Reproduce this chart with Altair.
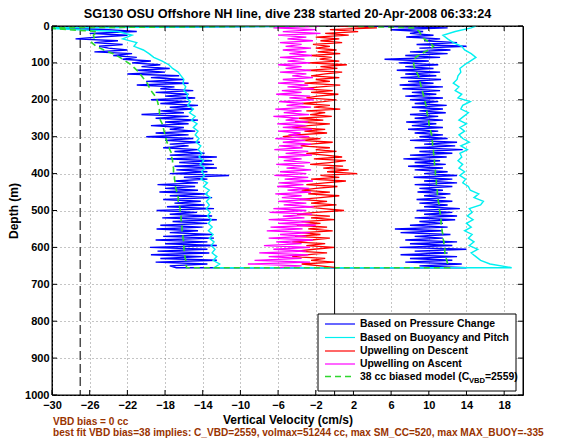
import altair as alt
import pandas as pd

TITLE = "SG130 OSU Offshore NH line, dive 238 started 20-Apr-2008 06:33:24"
X_TITLE = "Vertical Velocity (cm/s)"
Y_TITLE = "Depth (m)"
NOTE1 = "VBD bias = 0 cc"
NOTE2 = "best fit VBD bias=38 implies: C_VBD=2559, volmax=51244 cc, max SM_CC=520, max MAX_BUOY=-335"

x_ticks = [-30, -26, -22, -18, -14, -10, -6, -2, 2, 6, 10, 14, 18]
y_ticks = [0, 100, 200, 300, 400, 500, 600, 700, 800, 900, 1000]

legend_labels = ["Based on Pressure Change", "Based on Buoyancy and Pitch",
                 "Upwelling on Descent", "Upwelling on Ascent", "38 cc biased model (C"]
legend_sub = "VBD"
legend_tail = "=2559)"
legend_colors = ["#0000ff", "#00f0f0", "#ff0000", "#ff00ff", "#2ed62e"]

ref_dashed_x = [-27]
ref_zero_x = [0]

# sampling depths (m)
depth_fine = list(range(0, 656, 5))
depth_coarse = [0] + list(range(5, 656, 10))

# Based on pressure change: descent (0 -> 655 m) and ascent (655 -> 0 m)
blue_desc = [
    -1, -31, -24, -21, -26, -22, -25, -27.5, -23, -25.5,
    -22.5, -25, -24, -22, -25.5, -21.5, -23.5, -21, -22.5, -19.5,
    -21.5, -18.5, -20.5, -17.5, -21, -18, -22, -16.5, -19.5, -16,
    -20, -15.5, -21, -17, -18.5, -15, -19, -15.5, -18, -14.8,
    -19.5, -15.5, -18.5, -14.5, -17.5, -15, -18.5, -16, -20.5, -15.5,
    -19, -14.5, -18, -15.5, -19.5, -16, -17.5, -14.8, -19, -15.5,
    -20, -15, -18, -14.3, -17.5, -15.5, -18.2, -14.5, -17, -13.8,
    -17.5, -12.5, -17.8, -13, -16.5, -12.8, -17, -12.5, -16.8, -13.5,
    -17.5, -11.2, -16, -13.5, -17, -14.5, -18.8, -14.8, -18, -14.5,
    -18.6, -13.5, -17.5, -13, -18.2, -14.2, -17, -13.8, -17.8, -12.8,
    -18.9, -14.6, -17.5, -13, -18.3, -12.5, -17.2, -13.5, -18.5, -14,
    -18.9, -14.5, -17.5, -13, -18.2, -12.8, -19, -13.5, -18, -12.5,
    -19.6, -13.5, -18.8, -13.3, -19.5, -14, -18.5, -12.5, -19, -13.5,
    -17.5, -16.8,
]
blue_asc = [
    14, 9, 13.5, 7.5, 12.5, 8, 13, 7, 12, 8.5,
    14, 6.9, 12.5, 8, 13, 7.5, 11.5, 8.5, 12.3, 7,
    11.5, 6.4, 12, 8, 11.5, 9, 12.8, 8.5, 13, 9.5,
    12.5, 8.7, 13.3, 9.5, 12, 9, 12.5, 8.7, 11.8, 9.5,
    12.3, 8.8, 11.5, 9, 12.5, 8.5, 13, 9.5, 12.5, 8.4,
    13, 9.5, 12, 8.5, 11.5, 7.8, 11.8, 8.5, 11.2, 7.3,
    11.9, 8, 12.5, 9, 13.6, 8.5, 12.8, 9.5, 13, 8,
    12, 9, 11.5, 8.5, 11, 7.8, 11.5, 8.2, 10.8, 7.6,
    11.5, 8.5, 11, 8, 11.8, 9, 11.5, 8.2, 11.9, 8.5,
    11, 8, 11.5, 7.5, 10.8, 8.2, 11.2, 7.2, 11.5, 6.9,
    10.5, 7.8, 11.3, 7, 10.8, 7.5, 11.2, 6.6, 10.5, 7.5,
    11, 6.8, 10, 5.3, 11.2, 7.5, 12, 8, 12.3, 9,
    14, 8.7, 13, 9.5, 11.2, 7.6, 10.5, 8, 9.4, 6,
    12, 3,
]

# Based on buoyancy and pitch
cyan_desc = [
    -1, -32,
    -23, -21.5, -22.5, -21, -21.3, -20.3, -19.7, -19.2, -18.3, -17.6,
    -17.2, -16.6, -16.3, -16, -16.1, -15.8, -16, -15.6, -15.7, -15.3,
    -15.6, -15, -15.4, -14.8, -15.2, -14.6, -15, -14.5, -14.8, -14.4,
    -14.7, -14.2, -14.5, -14.1, -14.4, -13.9, -14.3, -13.8, -14.1, -13.8,
    -14.2, -13.5, -13.9, -13.3, -13.7, -13.2, -13.6, -13.3, -13.6, -13.2,
    -13.5, -13.1, -13.4, -13, -13.4, -12.9, -13.3, -12.8, -13.1, -12.7,
    -13, -12.5, -12.9, -12.2, -12.8,
]
cyan_asc = [
    18.8, 16.5, 15.5, 15, 14.5, 15.2, 14.3, 14.8, 14.2, 14.6,
    13.8, 14.5, 14, 14.7, 14.1, 14.6, 14.3, 15.5, 15.8, 14.8,
    15.3, 14.4, 14.2, 13.6, 13.9, 13.3, 13.8, 13.2, 13.6, 13.1,
    13.5, 13.3, 14.1, 13.4, 14.3, 13.6, 13.2, 13.8, 13.3, 14,
    13.2, 13.7, 14.2, 13.4, 13.6, 14.4, 13.1, 13.5, 12.8, 13.2,
    12.6, 13, 13.1, 13.4, 13.3, 13.8, 14.4, 15, 14.5, 13.8,
    13.5, 12.6, 12, 11.5, 12.8, 14.5,
    15,
]

# Upwelling on descent / on ascent
red_desc = [
    0.5, 4.5, -0.5, 2.5, -1, 1.5, -2, 0.5, -1.5, 0.8,
    -2.3, -0.5, -2, 0.2, -1.8, 0.6, -2.5, -0.3, -1.6, 0.5,
    -2.8, 1.3, -1.5, 0.3, -3, 0.8, -1, -2.5, 0.5, -2,
    -0.5, -3.2, 0.6, -1.5, -3.6, -0.2, -2.5, 0.4, -1.8, -3,
    0.2, -1.2, -3.5, -0.5, -2.2, 0.6, -3, -1, -2.6, -0.3,
    -3.8, -1.2, -4.2, -0.5, -2.8, -4.5, -1, -3.2, -0.8, -4,
    -5.5, -1.5, -3.5, -0.2, -2.5, -3.6, -0.5, -2, 0.2, -3,
    -1, 0.8, -2.2, 1.2, -0.5, -2.6, 0.9, -1.2, 1.5, -0.8,
    2.4, -1.5, 0.5, -2.5, 1.2, -1, -3, 0.3, -2, -3.5,
    -0.5, -2.8, 0.5, -1.5, -3.7, -0.8, -2.5, 0.2, -3, -1.2,
    1, -2, -4, -0.5, -2.5, 0, -3.5, -1.5, -4, -0.8,
    -2.8, -0.2, -3.5, -1.5, -4.2, -0.5, -2.5, -4.5, -1, -3,
    0, -2.2, -4, -0.8, -3, -4.5, -1, -2.5, 0, -3.5,
    -1.5, 0.2,
]
magenta_asc = [
    -1, -6.5, -2, -5.5, -1.5, -6, -3, -5, -2.3, -5.8,
    -3.5, -5.2, -2.5, -5.5, -3, -4.8, -2.4, -5.8, -3.2, -5,
    -2.6, -6, -3.5, -5.2, -2.5, -5.8, -3, -4.5, -2.3, -5.5,
    -3.2, -6, -2.8, -5, -2.2, -5.6, -3.5, -6.2, -2.6, -4.8,
    -2.2, -5.9, -3.3, -5.1, -2.5, -6.3, -3.5, -5.4, -2.7, -6.5,
    -3.8, -5.2, -2.8, -6.1, -3, -5.5, -2.4, -6, -3.6, -4.9,
    -2.7, -6.3, -3.1, -5.5, -2.5, -5.9, -3.4, -6.4, -2.8, -5.2,
    -2.4, -6, -3.5, -5.4, -2.6, -6.2, -3.2, -5.1, -2.5, -5.8,
    -3, -6.4, -2.8, -5.3, -2.3, -5.9, -3.3, -6.1, -2.7, -5,
    -2.5, -6.3, -3.5, -5.6, -2.6, -6, -3, -5.4, -2.2, -6.5,
    -3, -6.9, -2.4, -5.5, -3.2, -7, -2.6, -6, -2, -6.8,
    -3.4, -7.2, -2.6, -5.8, -3, -7, -2.3, -6.2, -3.5, -7.5,
    -2.6, -6.5, -3, -8, -2.8, -7, -3.5, -8.5, -2.6, -9.2,
    -3.5, -6,
]

# 38 cc biased model
green_desc = [
    -1, -31,
    -25.2, -25.6, -25.5, -25.8, -25.3, -24.5, -23.5, -22.8, -22.2, -21.6,
    -21.2, -20.8, -20.5, -20.2, -19.9, -19.7, -19.5, -19.2, -18.9, -18.8,
    -18.7, -18.6, -18.6, -18.5, -18.5, -18.3, -18.2, -18.1, -18, -17.9,
    -17.8, -17.6, -17.5, -17.3, -17.3, -17.2, -17.2, -17.1, -17.1, -17,
    -17, -16.9, -16.9, -16.8, -16.7, -16.6, -16.6, -16.5, -16.4, -16.4,
    -16.3, -16.3, -16.2, -16.2, -16.2, -16.1, -16.1, -16, -16, -16,
    -15.9, -15.9, -15.8, -15.8, -15.7,
]
green_asc = [
    12.2, 12, 11.9, 11.8, 11.7, 11.7, 11.6, 11.6, 11.5, 11.5,
    11.4, 11.4, 11.3, 11.3, 11.2, 11.2, 11.1, 11.1, 11, 11,
    10.9, 10.9, 10.8, 10.8, 10.8, 10.7, 10.7, 10.7, 10.6, 10.6,
    10.6, 10.5, 10.5, 10.4, 10.4, 10.3, 10.3, 10.2, 10.1, 10,
    10, 9.9, 9.8, 9.8, 9.7, 9.6, 9.5, 9.4, 9.3, 9.2,
    9.1, 9, 8.9, 8.7, 8.5, 8.4, 8.4, 8.6, 9.2, 10,
    10.5, 10.1, 9.5, 9.2, 9, 8.5,
    1,
]

W, H = 471, 369
FONT = "Liberation Sans"


def track(depths, vals, start=0):
    return pd.DataFrame({"depth": depths, "vel": vals,
                         "order": list(range(start, start + len(vals)))})


def dive(depths, down, up):
    a = track(depths, down, 0)
    b = track(depths[::-1], up, len(down))
    return pd.concat([a, b], ignore_index=True)


X = alt.X("vel:Q", scale=alt.Scale(domain=[-30, 20], nice=False, zero=False),
          axis=alt.Axis(values=x_ticks, title=X_TITLE, labelFlush=False, labelOverlap=False,
                        format="d"))
Y = alt.Y("depth:Q", scale=alt.Scale(domain=[0, 1000], reverse=True, nice=False, zero=False),
          axis=alt.Axis(values=y_ticks, title=Y_TITLE, labelFlush=False, labelOverlap=False,
                        format="d", titleX=-32, titleY=H / 2))

one = pd.DataFrame({"k": [0]})
layers = []

# reference lines
layers.append(alt.Chart(pd.DataFrame({"vel": ref_dashed_x})).mark_rule(
    color="#4d4d4d", strokeWidth=1.5, strokeDash=[9, 4]).encode(x=X))


def line(df, color, width=1.0, dash=None):
    kw = dict(color=color, strokeWidth=width, clip=True)
    if dash:
        kw["strokeDash"] = dash
    return alt.Chart(df).mark_line(**kw).encode(x=X, y=Y, order="order:Q")


layers.append(line(dive(depth_fine, blue_desc, blue_asc), legend_colors[0], 1.4))
layers.append(line(dive(depth_coarse, cyan_desc, cyan_asc), legend_colors[1], 1.4))
layers.append(line(track(depth_fine, red_desc), legend_colors[2], 1.3))
layers.append(line(track(depth_fine, magenta_asc), legend_colors[3], 1.3))
layers.append(line(dive(depth_coarse, green_desc, green_asc), legend_colors[4], 1.6, [6, 4]))

layers.append(alt.Chart(pd.DataFrame({"vel": ref_zero_x})).mark_rule(
    color="black", strokeWidth=1).encode(x=X))

# inner ticks (MATLAB style box)
xt = pd.DataFrame({"vel": x_ticks})
yt = pd.DataFrame({"depth": y_ticks})
layers.append(alt.Chart(xt).mark_rule(color="black").encode(x=X, y=alt.value(H), y2=alt.value(H - 5)))
layers.append(alt.Chart(xt).mark_rule(color="black").encode(x=X, y=alt.value(0), y2=alt.value(5)))
layers.append(alt.Chart(yt).mark_rule(color="black").encode(y=Y, x=alt.value(0), x2=alt.value(5)))
layers.append(alt.Chart(yt).mark_rule(color="black").encode(y=Y, x=alt.value(W), x2=alt.value(W - 5)))
layers.append(alt.Chart(one).mark_rect(filled=False, stroke="black", strokeWidth=1).encode(
    x=alt.value(0), x2=alt.value(W), y=alt.value(0), y2=alt.value(H)))

# legend box
LX0, LX1, LY0, LY1 = 266, 464, 288, 365
row_y = [298, 311.5, 325, 338, 350.5]
LFS = 10.4
layers.append(alt.Chart(one).mark_rect(fill="white", stroke="black", strokeWidth=1).encode(
    x=alt.value(LX0), x2=alt.value(LX1), y=alt.value(LY0), y2=alt.value(LY1)))
for i, lab in enumerate(legend_labels):
    kw = dict(color=legend_colors[i], strokeWidth=1.5 if i == 4 else 1.2)
    if i == 4:
        kw["strokeDash"] = [6, 4]
    layers.append(alt.Chart(one).mark_rule(**kw).encode(
        x=alt.value(273), x2=alt.value(303), y=alt.value(row_y[i])))
    layers.append(alt.Chart(one).mark_text(text=lab, font=FONT, fontSize=LFS, fontWeight="bold",
                                          align="left", baseline="middle", color="black").encode(
        x=alt.value(308), y=alt.value(row_y[i])))
layers.append(alt.Chart(one).mark_text(text=legend_sub, font=FONT, fontSize=7.6, fontWeight="bold",
                                      align="left", baseline="middle", color="black").encode(
    x=alt.value(417), y=alt.value(row_y[4] + 4)))
layers.append(alt.Chart(one).mark_text(text=legend_tail, font=FONT, fontSize=LFS, fontWeight="bold",
                                      align="left", baseline="middle", color="black").encode(
    x=alt.value(433), y=alt.value(row_y[4])))

# title and notes
layers.append(alt.Chart(one).mark_text(text=TITLE, font=FONT, fontSize=12.7, fontWeight="bold",
                                      align="center", baseline="middle", color="black").encode(
    x=alt.value(W / 2), y=alt.value(-12.5)))
layers.append(alt.Chart(one).mark_text(text=NOTE1, font=FONT, fontSize=10.1, fontWeight="bold",
                                      align="left", baseline="middle", color="#993300").encode(
    x=alt.value(1), y=alt.value(395.5)))
layers.append(alt.Chart(one).mark_text(text=NOTE2, font=FONT, fontSize=10.1, fontWeight="bold",
                                      align="left", baseline="middle", color="#993300").encode(
    x=alt.value(1), y=alt.value(407)))

chart = alt.layer(*layers).properties(
    width=W, height=H,
    padding={"left": 44, "top": 18, "right": 37, "bottom": 47},
    autosize=alt.AutoSizeParams(type="none"),
).configure_view(stroke="black", strokeWidth=1).configure_axis(
    labelFont=FONT, labelFontSize=11, labelFontWeight="bold", labelColor="black",
    titleFont=FONT, titleFontSize=12, titleFontWeight="bold", titleColor="black",
    grid=True, gridColor="#8a8a8a", gridDash=[1, 3], gridWidth=1,
    ticks=False, domain=False, labelPadding=3,
).configure_axisX(titlePadding=4, labelPadding=4)

chart.save("out.html", embed_options={"renderer": "svg", "actions": False})
